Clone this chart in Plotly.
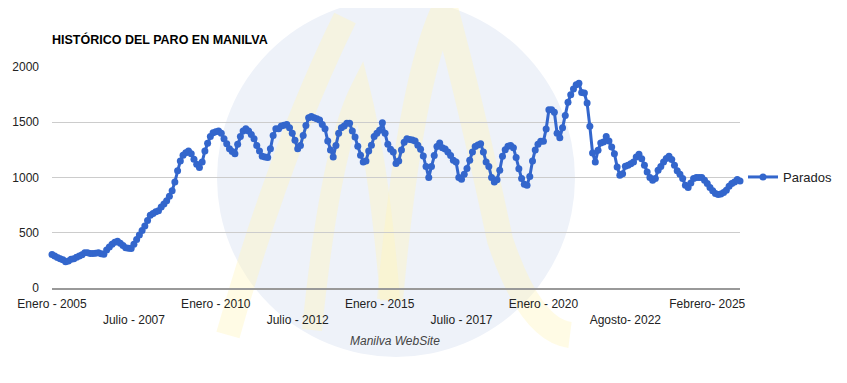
import plotly.graph_objects as go

# Monthly registered unemployed (Parados) in Manilva
parados = [
    # 2005
    304, 290, 275, 265, 255, 238, 245, 260, 265, 278, 290, 300,
    # 2006
    320, 318, 313, 313, 315, 319, 310, 305, 343, 370, 395, 415,
    # 2007
    424, 405, 385, 364, 360, 358, 395, 440, 480, 520, 560, 610,
    # 2008
    659, 675, 690, 700, 734, 760, 790, 830, 880, 960, 1060, 1150,
    # 2009
    1201, 1225, 1240, 1216, 1165, 1120, 1090, 1140, 1240, 1310, 1370, 1405,
    # 2010
    1415, 1421, 1400, 1350, 1306, 1260, 1235, 1216, 1300, 1370, 1420, 1442,
    # 2011
    1420, 1390, 1351, 1290, 1240, 1192, 1185, 1180, 1260, 1380, 1442, 1442,
    # 2012
    1465, 1472, 1480, 1450, 1400, 1336, 1261, 1290, 1380, 1470, 1541, 1553,
    # 2013
    1540, 1532, 1520, 1480, 1442, 1330, 1250, 1186, 1290, 1400, 1450, 1465,
    # 2014
    1490, 1490, 1420, 1366, 1282, 1201, 1141, 1150, 1240, 1291, 1370, 1400,
    # 2015
    1427, 1495, 1400, 1300, 1255, 1231, 1126, 1150, 1250, 1320, 1351, 1345,
    # 2016
    1340, 1330, 1291, 1255, 1195, 1100, 1000, 1100, 1200, 1280, 1312, 1270,
    # 2017
    1258, 1230, 1200, 1156, 1141, 1000, 985, 1030, 1081, 1156, 1231, 1280,
    # 2018
    1295, 1306, 1231, 1141, 1100, 1000, 960, 980, 1066, 1192, 1252, 1282,
    # 2019
    1290, 1270, 1180, 1080, 990, 940, 930, 1010, 1150, 1250, 1300, 1327,
    # 2020
    1327, 1440, 1613, 1613, 1590, 1400, 1360, 1450, 1560, 1680, 1750, 1800,
    # 2021
    1840, 1854, 1770, 1764, 1674, 1463, 1222, 1141, 1246, 1312, 1321, 1372,
    # 2022
    1330, 1276, 1216, 1096, 1020, 1035, 1102, 1111, 1125, 1141, 1186, 1210,
    # 2023
    1170, 1110, 1050, 1000, 975, 990, 1066, 1100, 1140, 1171, 1192, 1162,
    # 2024
    1110, 1060, 1030, 990, 930, 910, 951, 990, 999, 1000, 999, 975,
    # 2025
    945, 910, 880, 855, 846, 850, 865, 885, 920, 945, 960, 981,
    969,
]

tick_positions = [0, 30, 60, 90, 120, 150, 180, 210, 240]
tick_labels = ["Enero - 2005", "Julio - 2007", "Enero - 2010", "Julio - 2012",
               "Enero - 2015", "Julio - 2017", "Enero - 2020", "Agosto- 2022",
               "Febrero- 2025"]
y_ticks = [0, 500, 1000, 1500, 2000]

series_name = "Parados"
title_text = "HISTÓRICO DEL PARO EN MANILVA"
axis_title = "Manilva WebSite"

x_idx = list(range(len(parados)))

# page body has an 8px margin; compensate so the plot lands where the reference has it
OFF = 8
W, H = 847, 383
PL, PR, PT, PB = 52, 740, 67, 288   # plot area in page pixels
L, T = PL - OFF, PT - OFF
R = W - (PR - OFF)
B = H - (PB - OFF)
PW = PR - PL
PH = PB - PT


def px(x, y):
    return (x - PL) / PW, (PB - y) / PH


def path(cmds):
    out = []
    for c in cmds:
        if isinstance(c, str):
            out.append(c)
        else:
            a, b = px(*c)
            out.append(f"{a:.4f},{b:.4f}")
    return " ".join(out)


font_family = "Arial, Liberation Sans, sans-serif"

fig = go.Figure()
fig.add_trace(go.Scatter(
    x=x_idx, y=parados, mode="lines+markers", name=series_name,
    line=dict(color="#3366cc", width=3),
    marker=dict(color="#3366cc", size=7),
    cliponaxis=False,
))

shapes = []
# watermark circle
cx0, cy0 = px(217, -1)
cx1, cy1 = px(575, 357)
shapes.append(dict(type="circle", xref="paper", yref="paper", layer="below",
                   x0=cx0, x1=cx1, y0=cy1, y1=cy0,
                   fillcolor="#eef2f9", line=dict(width=0)))
yellow = "rgba(255,246,190,0.4)"
shapes.append(dict(type="path", xref="paper", yref="paper", layer="below",
                   path=path(["M", (228, 335), "Q", (280, 150), (345, 18)]),
                   line=dict(color=yellow, width=24)))
shapes.append(dict(type="path", xref="paper", yref="paper", layer="below",
                   path=path(["M", (312, 330), "Q", (330, 150), (360, 90),
                              "Q", (380, 170), (390, 300)]),
                   line=dict(color=yellow, width=20)))
shapes.append(dict(type="path", xref="paper", yref="paper", layer="below",
                   path=path(["M", (390, 300), "Q", (410, 80), (445, 8),
                              "Q", (470, 100), (500, 240),
                              "Q", (530, 330), (570, 335)]),
                   line=dict(color=yellow, width=26)))

ax, ay = px(395, 341)
fig.update_layout(
    width=W, height=H,
    margin=dict(l=L, r=R, t=T, b=B, pad=0, autoexpand=False),
    paper_bgcolor="white", plot_bgcolor="rgba(0,0,0,0)",
    font=dict(family=font_family, size=12, color="#222222"),
    title=dict(text=f"<b>{title_text}</b>", x=0, xref="paper", xanchor="left",
               y=1 - (40 - OFF) / H, yref="container", yanchor="middle",
               font=dict(size=12.5, color="#000000")),
    showlegend=True,
    legend=dict(x=(743 - PL) / PW, xanchor="left", y=(PB - 177) / PH, yanchor="middle",
                font=dict(size=13, color="#222222"), bgcolor="rgba(0,0,0,0)"),
    shapes=shapes,
    annotations=[dict(text=f"<i>{axis_title}</i>", xref="paper", yref="paper",
                      x=ax, y=ay, xanchor="center", yanchor="middle",
                      showarrow=False, font=dict(size=12, color="#444444"))],
    xaxis=dict(range=[0, len(parados) - 1], showgrid=False, zeroline=False,
               automargin=False,
               showline=True, linecolor="#999999", linewidth=2,
               tickmode="array", tickvals=tick_positions,
               ticktext=[t if i % 2 == 0 else "<br>" + t for i, t in enumerate(tick_labels)],
               ticks="", ticklabelstandoff=4, tickfont=dict(size=12, color="#222222")),
    yaxis=dict(range=[0, 2000], tickmode="array", tickvals=y_ticks,
               automargin=False,
               showgrid=True, gridcolor="#cccccc", gridwidth=1, zeroline=False,
               showline=False, ticks="", ticklabelstandoff=12,
               tickfont=dict(size=12, color="#222222")),
)

fig.write_html("out.html")
